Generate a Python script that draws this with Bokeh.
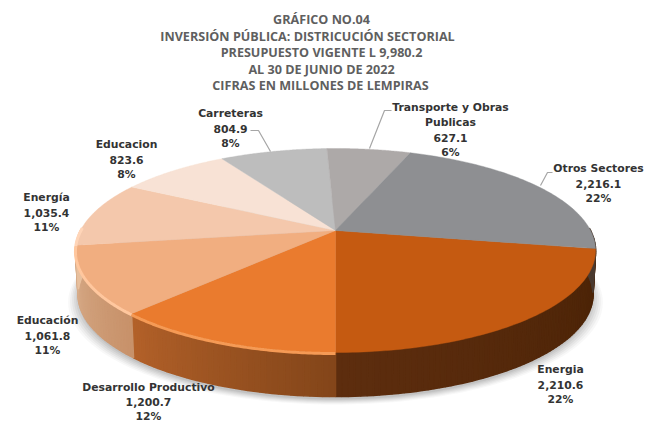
import numpy as np
from bokeh.plotting import figure
from bokeh.embed import file_html
from bokeh.resources import INLINE
from bokeh.core.properties import value

# --- data ---
sectors = ["Energia", "Desarrollo Productivo", "Educación", "Energía", "Educacion",
           "Carreteras", "Transporte y Obras Publicas", "Otros Sectores"]
amounts = [2210.6, 1200.7, 1061.8, 1035.4, 823.6, 804.9, 627.1, 2216.1]
top_colors = ["#C55A11", "#EA7B2E", "#F1AE80", "#F4C8AC", "#F8E2D5", "#BDBDBD", "#ADA9A8", "#8E8F92"]
wall_from = ["#4A2306", "#84461A", "#C8926A", "#E8C09E", "#F8E2D5", "#BDBDBD", "#ADA9A8", "#4A3A30"]
wall_to = ["#5E2E0F", "#B4622A", "#D9AE8C", "#E8C09E", "#F8E2D5", "#BDBDBD", "#ADA9A8", "#4A3A30"]
rim_colors = ["#C55A11", "#F59A55", "#FFC79E", "#FFD5B8", "#F8E2D5", "#BDBDBD", "#ADA9A8", "#8E8F92"]

title_lines = ["GRÁFICO NO.04", "INVERSIÓN PÚBLICA: DISTRICUCIÓN SECTORIAL",
               "PRESUPUESTO VIGENTE L 9,980.2", "AL 30 DE JUNIO DE 2022",
               "CIFRAS EN MILLONES DE LEMPIRAS"]
title_y = [19, 36, 52, 69, 85]
title_x = [321, 307, 321, 321, 320]

label_lines = [
    ["Energia", "2,210.6", "22%"],
    ["Desarrollo Productivo", "1,200.7", "12%"],
    ["Educación", "1,061.8", "11%"],
    ["Energía", "1,035.4", "11%"],
    ["Educacion", "823.6", "8%"],
    ["Carreteras", "804.9", "8%"],
    ["Transporte y Obras", "Publicas", "627.1", "6%"],
    ["Otros Sectores", "2,216.1", "22%"],
]
label_x = [560, 148, 47, 46, 126, 230, 450, 598]
label_y = [369, 387, 320, 197, 144, 113, 107, 168]
label_step = [15, 14.5, 15, 15, 15, 15, 15, 15]
leaders_x = [[250, 258, 270], [369, 384, 391], [540, 547, 552]]
leaders_y = [[130, 130, 151], [148, 110, 110], [185, 172, 172]]

# --- projection of the tilted pie (pixel-space data coordinates) ---
CX, CY, RX, K, A = 335.0, 230.0, 255.0, 0.196, 98.1
DEPTH, SHRINK = 44.0, 0.99


def project(theta):
    X, Y = np.cos(theta), np.sin(theta)
    d = 1 + K * Y
    return CX + RX * X / d, CY - A * Y / d


def lower(theta):
    x, y = project(theta)
    return CX + SHRINK * (x - CX), y + DEPTH


def rgb(h):
    return np.array([int(h[i:i + 2], 16) for i in (1, 3, 5)], dtype=float)


p = figure(width=645, height=422, x_range=(0, 645), y_range=(422, 0), output_backend="svg",
           toolbar_location=None, min_border=0, outline_line_color=None, background_fill_color="white")
p.axis.visible = False
p.grid.visible = False

total = sum(amounts)
sweeps = np.array(amounts) / total * 2 * np.pi
# clockwise; the first slice ends at the bottom of the pie
start = -np.pi / 2 + sweeps[0]
ends = start - np.concatenate([[0], np.cumsum(sweeps)])

# soft shadow under the pie
full = np.linspace(0, 2 * np.pi, 240)
for grow, alpha in zip([10, 8, 6, 4, 2, 0], [0.04, 0.05, 0.06, 0.07, 0.08, 0.1]):
    sx, sy = lower(full)
    p.patch(CX + (sx - CX) * (1 + grow / 260), sy + 3 + grow * 0.5, fill_color="#555555",
            fill_alpha=alpha, line_color=None)

# side wall, front half only, as thin shaded strips
for i in range(len(amounts)):
    a0, a1 = ends[i + 1], ends[i]          # a0 < a1
    n = max(int((a1 - a0) / 0.02), 2)
    grid = np.linspace(a1, a0, n + 1)      # runs clockwise from a1 to a0
    c0, c1 = rgb(wall_from[i]), rgb(wall_to[i])
    xs, ys, cols = [], [], []
    for j in range(n):
        t0, t1 = grid[j], grid[j + 1]
        if np.sin((t0 + t1) / 2) > 0.02:
            continue
        qx0, qy0 = project(np.array([t0, t1]))
        qx1, qy1 = lower(np.array([t1, t0]))
        xs.append([*qx0, *qx1])
        ys.append([*qy0, *qy1])
        c = c0 + (c1 - c0) * j / n
        cols.append("#%02x%02x%02x" % tuple(int(v) for v in c))
    if xs:
        p.patches(xs, ys, fill_color=cols, line_color=cols, line_width=1.6)

# top face
for i in range(len(amounts)):
    th = np.linspace(ends[i], ends[i + 1], 80)
    x, y = project(th)
    p.patch(np.r_[CX, x], np.r_[CY, y], fill_color=top_colors[i], line_color=top_colors[i], line_width=0.4)

# bevel highlight on the front rim
for i in range(len(amounts)):
    th = np.linspace(ends[i], ends[i + 1], 80)
    th = th[np.sin(th) < 0.04]
    if len(th) > 1 and i in (1, 2, 3):
        x, y = project(th)
        p.line(x, y + 1, line_color=rim_colors[i], line_width=3)

# leader lines
for lx, ly in zip(leaders_x, leaders_y):
    p.line(lx, ly, line_color="#A6A6A6", line_width=1.2)

# title
p.text(title_x, title_y, text=title_lines, text_font=value("Open Sans"), text_font_style="bold",
       text_font_size="12.6px", text_color="#5F5F5F", text_align="center", text_baseline="middle")

# slice labels
lab_x, lab_y, lab_t = [], [], []
for lines, lx, ly, st in zip(label_lines, label_x, label_y, label_step):
    for k, t in enumerate(lines):
        lab_x.append(lx)
        lab_y.append(ly + k * st)
        lab_t.append(t)
p.text(lab_x, lab_y, text=lab_t, text_font=value("DejaVu Sans"), text_font_style="bold",
       text_font_size="10.8px", text_color="#333333", text_align="center", text_baseline="middle")

open("out.html", "w").write(file_html(p, INLINE))
